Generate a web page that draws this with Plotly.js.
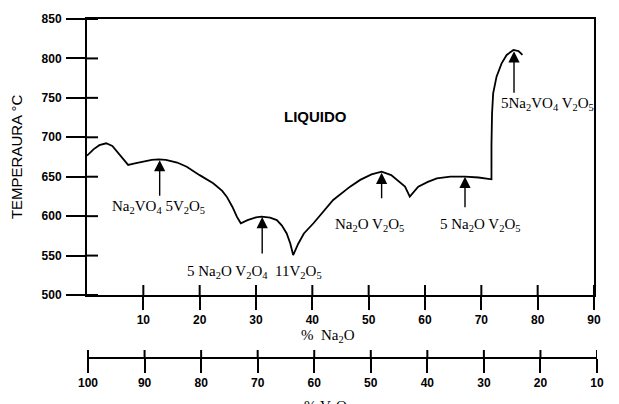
<!DOCTYPE html>
<html>
<head>
<meta charset="utf-8">
<script src="https://cdn.plot.ly/plotly-3.0.1.min.js"></script>
<style>html,body{margin:0;padding:0;background:#fff;}#chart{width:619px;height:404px;}</style>
</head>
<body>
<div id="chart"></div>
<script>
// Liquidus curve (% Na2O vs temperature °C)
const pctNa2O = [0, 1.2, 2.2, 3.4, 4.5, 5.6, 6.6, 7.3, 8.5, 10, 11.5, 12.7, 14, 16, 17.7, 20, 22.4, 24, 24.8, 25.8, 26.6, 27.3,
  28.5, 30, 31, 32.5, 33.7, 34.6, 35.45, 36.1, 36.6, 37.5, 38.5, 40.2, 42, 43.7, 46.7, 48.5, 50.5, 52.3, 54, 55, 56.45, 57.3,
  58.8, 60.5, 62.1, 64.5, 67.1, 69.5, 71.8, 71.8, 71.9, 72.1, 72.7, 73.6, 74.5, 75.7, 76.6, 77.3];
const tempC = [676.7, 685, 690, 692.4, 689, 679, 670, 665, 667, 669.5, 671.3, 672, 671.5, 668, 662.7, 652, 641.6, 632, 624.7, 612, 599.3, 591,
  595, 598.5, 599.3, 598, 595, 588, 578, 565, 550.7, 565, 578, 591, 606, 620.5, 637.4, 646, 653, 656.4, 652, 645.8, 637.4, 624.7,
  637.4, 643.5, 648, 650, 650, 649, 646.7, 690, 730, 755.7, 776.9, 793.8, 804.4, 810.7, 809.4, 804.4];
// same compositions expressed as % V2O5
const pctV2O5 = pctNa2O.map(v => 100 - v);

// Compounds (congruent melting points)
const compoundNames = [
  'Na<sub>2</sub>VO<sub>4</sub> 5V<sub>2</sub>O<sub>5</sub>',
  '5 Na<sub>2</sub>O V<sub>2</sub>O<sub>4</sub>&nbsp; 11V<sub>2</sub>O<sub>5</sub>',
  'Na<sub>2</sub>O V<sub>2</sub>O<sub>5</sub>',
  '5 Na<sub>2</sub>O V<sub>2</sub>O<sub>5</sub>',
  '5Na<sub>2</sub>VO<sub>4</sub> V<sub>2</sub>O<sub>5</sub>'
];
const compoundX = [12.9, 31.1, 52.3, 67.1, 75.8];
const compoundT = [671, 599, 655, 650, 809];
const labelX = [12.75, 29.8, 50.2, 69.9, 81.8];
const labelT = [611, 529.6, 588.8, 588.8, 742.2];
const arrowLen = [37, 38, 27, 32, 43];

const na2oTicks = [10, 20, 30, 40, 50, 60, 70, 80, 90];
const v2o5Ticks = [100, 90, 80, 70, 60, 50, 40, 30, 20, 10];
const tempTicks = [500, 550, 600, 650, 700, 750, 800, 850];

const tickFont = {family: 'Liberation Sans, Arial, sans-serif', size: 12, color: '#000', weight: 700};
const serif = {family: 'Liberation Serif, Times New Roman, serif', size: 15, color: '#000'};

const traces = [
  {x: pctV2O5, y: tempC, xaxis: 'x2', yaxis: 'y', mode: 'lines', line: {color: 'rgba(0,0,0,0)', width: 1}, showlegend: false, hoverinfo: 'skip'},
  {x: pctNa2O, y: tempC, xaxis: 'x', yaxis: 'y', mode: 'lines', line: {color: '#000', width: 1.8}, showlegend: false, hoverinfo: 'skip'}
];

// inner halves of the crossing tick marks (pixel-length segments at tick values)
const tickLine = {color: '#000', width: 2};
const shapes = [];
na2oTicks.forEach(v => shapes.push({type: 'line', xref: 'x', x0: v, x1: v, yref: 'y', ysizemode: 'pixel', yanchor: 500, y0: 0, y1: 10, line: tickLine}));
tempTicks.forEach(v => shapes.push({type: 'line', yref: 'y', y0: v, y1: v, xref: 'x', xsizemode: 'pixel', xanchor: 0, x0: 0, x1: 11, line: tickLine}));
v2o5Ticks.forEach(v => shapes.push({type: 'line', xref: 'x2', x0: v, x1: v, yref: 'paper', ysizemode: 'pixel', yanchor: 0, y0: 0, y1: 8, line: tickLine}));

const annotations = [];
for (let i = 0; i < compoundNames.length; i++) {
  annotations.push({x: compoundX[i], y: compoundT[i], xref: 'x', yref: 'y', text: '', showarrow: true,
    ax: 0, ay: arrowLen[i], arrowhead: 2, arrowsize: 1.6, arrowwidth: 1.4, arrowcolor: '#000', standoff: 0});
  annotations.push({x: labelX[i], y: labelT[i], xref: 'x', yref: 'y', xanchor: 'center', yanchor: 'middle',
    text: compoundNames[i], showarrow: false, font: serif});
}
annotations.push({x: 40.5, y: 726, xref: 'x', yref: 'y', xanchor: 'center', yanchor: 'middle', text: 'LIQUIDO', showarrow: false,
  font: {family: 'Liberation Sans, Arial, sans-serif', size: 15, color: '#000', weight: 700}});
annotations.push({x: -0.137, y: 0.593, xref: 'paper', yref: 'paper', xanchor: 'center', yanchor: 'middle',
  text: 'TEMPERAURA °C', textangle: -90, showarrow: false,
  font: {family: 'Liberation Sans, Arial, sans-serif', size: 15, color: '#000'}});
annotations.push({x: 0.4725, y: 0.066, xref: 'paper', yref: 'paper', xanchor: 'center', yanchor: 'middle',
  text: '%&nbsp; Na<sub>2</sub>O', showarrow: false, font: serif});
annotations.push({x: 0.4725, y: -0.113, xref: 'paper', yref: 'paper', xanchor: 'center', yanchor: 'top',
  text: '% V<sub>2</sub>O<sub>5</sub>', showarrow: false, font: serif});

const yDom = [0.1858, 1];
const xDom = [0, 507 / 510];
const layout = {
  width: 619, height: 404,
  margin: {l: 87, r: 22, t: 19, b: 46, pad: 0},
  paper_bgcolor: '#fff', plot_bgcolor: 'rgba(0,0,0,0)',
  showlegend: false,
  xaxis: {domain: xDom, range: [0, 90], anchor: 'y', showline: true, mirror: true, linewidth: 2, linecolor: '#000',
    ticks: 'outside', ticklen: 13, tickwidth: 2, tickcolor: '#000', tickvals: na2oTicks, tickfont: tickFont,
    showgrid: false, zeroline: false},
  yaxis: {domain: yDom, range: [500, 850], anchor: 'x', showline: true, mirror: true, linewidth: 2, linecolor: '#000',
    ticks: 'outside', ticklen: 19, tickwidth: 2, tickcolor: '#000', tickvals: tempTicks, tickfont: tickFont,
    showgrid: false, zeroline: false, ticklabelstandoff: 2},
  xaxis2: {domain: [0, 1], range: [100.18, 10], anchor: 'free', position: 0, side: 'bottom', showline: true, linewidth: 2,
    linecolor: '#000', ticks: 'outside', ticklen: 14, tickwidth: 2, tickcolor: '#000', tickvals: v2o5Ticks, tickfont: tickFont,
    showgrid: false, zeroline: false},
  shapes: shapes,
  annotations: annotations
};

Plotly.newPlot('chart', traces, layout, {staticPlot: true, displayModeBar: false});
</script>
</body>
</html>
